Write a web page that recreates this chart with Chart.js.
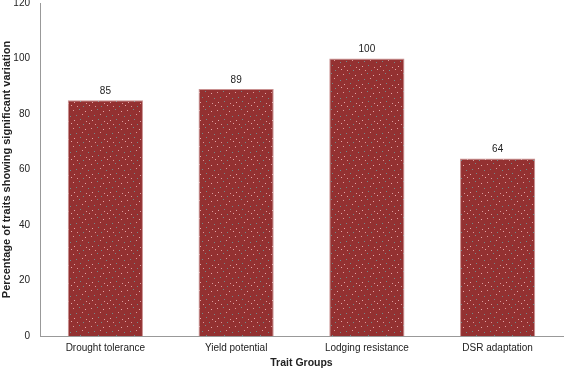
<!DOCTYPE html>
<html>
<head>
<meta charset="utf-8">
<script src="https://cdn.jsdelivr.net/npm/chart.js@4/dist/chart.umd.min.js"></script>
<style>
  html, body { margin: 0; padding: 0; background: #fff; }
  #wrap { width: 566px; height: 369px; position: relative; }
</style>
</head>
<body>
<div id="wrap"><canvas id="chart"></canvas></div>
<script>
const categories = ["Drought tolerance", "Yield potential", "Lodging resistance", "DSR adaptation"];
const values = [85, 89, 100, 64];
const yTicks = [0, 20, 40, 60, 80, 100, 120];

// speckled fill similar to the original bars
function makePattern() {
  const c = document.createElement("canvas");
  c.width = 18; c.height = 18;
  const g = c.getContext("2d");
  g.fillStyle = "#933131";
  g.fillRect(0, 0, 18, 18);
  const dots = [
    [1, 2, "#d99a9a"], [7, 1, "#6f8c8c"], [13, 3, "#e0a8a8"],
    [4, 7, "#6f8c8c"], [10, 6, "#d99a9a"], [16, 8, "#6f8c8c"],
    [2, 12, "#e0a8a8"], [8, 11, "#6f8c8c"], [14, 13, "#d99a9a"],
    [5, 16, "#d99a9a"], [11, 16, "#6f8c8c"], [17, 15, "#e0a8a8"],
  ];
  dots.forEach(([x, y, col]) => { g.fillStyle = col; g.fillRect(x, y, 1, 1); });
  return g.createPattern(c, "repeat");
}

const valueLabels = {
  id: "valueLabels",
  afterDatasetsDraw(chart) {
    const ctx = chart.ctx;
    const meta = chart.getDatasetMeta(0);
    ctx.save();
    ctx.fillStyle = "#222";
    ctx.font = "10px 'Liberation Sans', Arial, sans-serif";
    ctx.textAlign = "center";
    ctx.textBaseline = "bottom";
    meta.data.forEach((bar, i) => {
      ctx.fillText(String(values[i]), bar.x, bar.y - 4);
    });
    ctx.restore();
  },
};

new Chart(document.getElementById("chart"), {
  type: "bar",
  data: {
    labels: categories,
    datasets: [{
      data: values,
      backgroundColor: makePattern(),
      borderColor: "#c99090",
      borderWidth: 1,
      barPercentage: 0.575,
      categoryPercentage: 1,
    }],
  },
  options: {
    responsive: true,
    maintainAspectRatio: false,
    animation: false,
    layout: { padding: { top: 3, right: 3, left: 0, bottom: 0 } },
    plugins: { legend: { display: false }, tooltip: { enabled: false } },
    scales: {
      x: {
        grid: { display: false, drawTicks: false },
        border: { color: "#999", width: 1 },
        ticks: { color: "#222", font: { family: "'Liberation Sans', Arial, sans-serif", size: 10 }, padding: 6, maxRotation: 0 },
        title: { display: true, text: "Trait Groups", color: "#222", font: { family: "'Liberation Sans', Arial, sans-serif", size: 10.5, weight: "bold" }, padding: { top: 2, bottom: 0 } },
        afterFit: (s) => { s.height = 33; },
      },
      y: {
        min: 0, max: 120,
        afterBuildTicks: (s) => { s.ticks = yTicks.map((v) => ({ value: v })); },
        grid: { display: false, drawTicks: false },
        border: { color: "#999", width: 1 },
        ticks: { color: "#222", font: { family: "'Liberation Sans', Arial, sans-serif", size: 10 }, padding: 10 },
        title: { display: true, text: "Percentage of traits showing significant variation", color: "#222", font: { family: "'Liberation Sans', Arial, sans-serif", size: 11, weight: "bold" }, padding: { top: 0, bottom: 0 } },
        afterFit: (s) => { s.width = 40; s.paddingTop = 0; s.paddingBottom = 0; },
      },
    },
  },
  plugins: [valueLabels],
});
</script>
</body>
</html>
